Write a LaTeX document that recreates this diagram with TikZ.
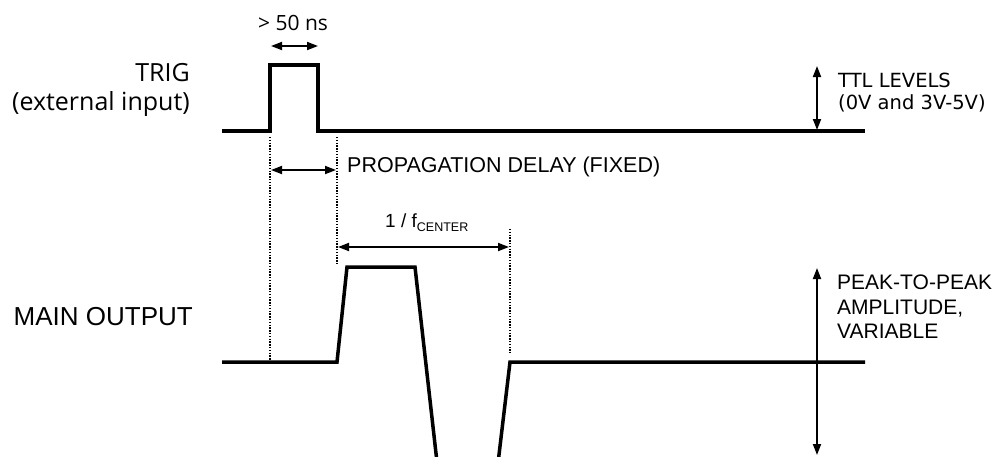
\documentclass[tikz,border=0pt]{standalone}
\usepackage{fontspec}
\setmainfont{Liberation Sans}
\newfontfamily\segfont{Open Sans}
\newfontfamily\verdfont{DejaVu Sans}
\usetikzlibrary{arrows.meta}
\begin{document}
\begin{tikzpicture}[x=1pt,y=-1pt,
  wave/.style={line width=3.5pt,line join=miter},
  dim/.style={line width=1.8pt,{Triangle[length=11pt,width=8pt]}-{Triangle[length=11pt,width=8pt]}},
  guide/.style={line width=1.4pt,dash pattern=on 1.4pt off 1.4pt},
  lbl/.style={inner sep=0pt,font=\fontsize{21}{24}\selectfont},
  seglbl/.style={inner sep=0pt,font=\segfont\fontsize{25}{29}\selectfont},
  ttl/.style={inner sep=0pt,font=\verdfont\fontsize{19.5}{22}\selectfont}]
\useasboundingbox (0,0) rectangle (1000,456);
% TRIG waveform
\coordinate (t0) at (222,131);
\coordinate (t1) at (270,131);
\coordinate (t2) at (270,65);
\coordinate (t3) at (318,65);
\coordinate (t4) at (318,131);
\coordinate (t5) at (865,131);
\draw[wave] (t0) -- (t1) -- (t2) -- (t3) -- (t4) -- (t5);
% MAIN waveform
\coordinate (m0) at (222,362);
\coordinate (m1) at (337,362);
\coordinate (m2) at (347,267);
\coordinate (m3) at (415,267);
\coordinate (m4) at (439,480);
\coordinate (m5) at (496,480);
\coordinate (m6) at (510,362);
\coordinate (m7) at (865,362);
\draw[wave] (m0) -- (m1) -- (m2) -- (m3) -- (m4) -- (m5) -- (m6) -- (m7);
% guides
\coordinate (g1a) at (270,137); \coordinate (g1b) at (270,360);
\coordinate (g2a) at (337,137); \coordinate (g2b) at (337,265);
\coordinate (g3a) at (510,229); \coordinate (g3b) at (510,353);
\draw[guide] (g1a) -- (g1b);
\draw[guide] (g2a) -- (g2b);
\draw[guide] (g3a) -- (g3b);
% dimension arrows
\coordinate (w1) at (271,46); \coordinate (w2) at (318,46);
\draw[dim] (w1) -- (w2);
\coordinate (p1) at (271,170); \coordinate (p2) at (336,170);
\draw[dim] (p1) -- (p2);
\coordinate (f1) at (338,247); \coordinate (f2) at (509,247);
\draw[dim] (f1) -- (f2);
\coordinate (l1) at (817,66); \coordinate (l2) at (817,130);
\draw[dim] (l1) -- (l2);
\coordinate (a1) at (817,268); \coordinate (a2) at (817,455);
\draw[dim] (a1) -- (a2);
% labels
\node[seglbl,anchor=base east] (trig) at (190,81) {TRIG};
\node[seglbl,anchor=base east] (ext) at (190,110) {(external input)};
\node[inner sep=0pt,font=\fontsize{26}{30}\selectfont,anchor=base east] (main) at (193,325) {MAIN OUTPUT};
\node[inner sep=0pt,font=\segfont\fontsize{21}{24}\selectfont,anchor=base] (width) at (293,30) {> 50 ns};
\node[inner sep=0pt,font=\fontsize{21.5}{24}\selectfont,anchor=base west] (prop) at (347,172) {PROPAGATION DELAY (FIXED)};
\node[inner sep=0pt,font=\fontsize{19}{22}\selectfont,anchor=base west] (freq) at (385,227) {1 / f\raisebox{-0.22em}{\fontsize{12.5}{14}\selectfont CENTER}};
\node[ttl,anchor=base west] (ttl1) at (838,87) {TTL LEVELS};
\node[ttl,anchor=base west] (ttl2) at (838,109) {(0V and 3V-5V)};
\node[lbl,anchor=base west] (pp1) at (837,289) {PEAK-TO-PEAK};
\node[lbl,anchor=base west] (pp2) at (837,314) {AMPLITUDE,};
\node[lbl,anchor=base west] (pp3) at (837,338) {VARIABLE};
\end{tikzpicture}
\end{document}
